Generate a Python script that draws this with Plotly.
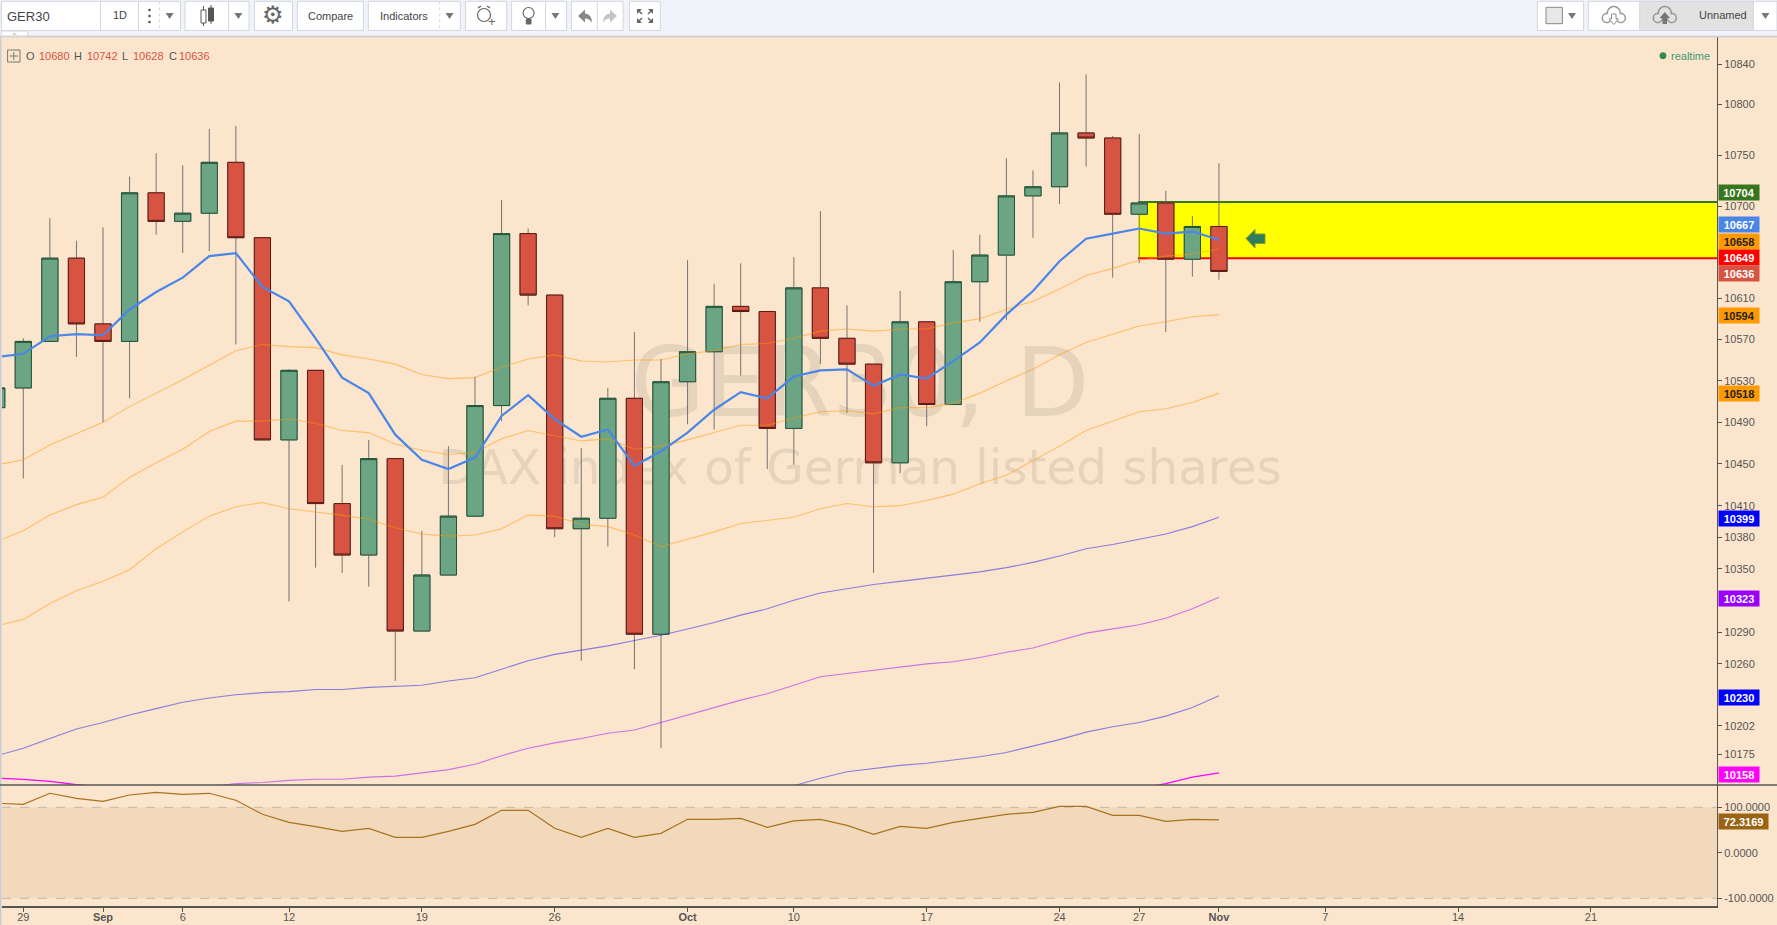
import math
import plotly.graph_objects as go

# ---------- data ----------
bars = list(range(-1, 46))
opens = [10504,10523,10568,10649,10585,10568,10713,10685,10693,10743,10669,10473,10540,10412,10363,10455,10291,10344,10400,10506,10673,10613,10388,10398,10513,10288,10529,10558,10602,10597,10484,10620,10571,10546,10451,10587,10507,10626,10652,10710,10719,10772,10767,10692,10703,10648,10680]
highs = [10523,10571,10688,10666,10679,10729,10752,10740,10776,10779,10669,10541,10540,10449,10473,10455,10386,10467,10534,10706,10678,10613,10465,10523,10577,10551,10647,10624,10644,10597,10650,10695,10603,10546,10617,10587,10657,10672,10747,10735,10822,10830,10769,10771,10715,10690,10742]
lows = [10504,10436,10568,10553,10490,10513,10672,10654,10656,10565,10473,10319,10351,10346,10333,10244,10291,10344,10400,10491,10603,10380,10263,10371,10255,10181,10488,10483,10535,10445,10449,10546,10499,10346,10441,10486,10507,10587,10589,10669,10702,10739,10630,10644,10577,10631,10628]
closes = [10523,10568,10649,10585,10568,10713,10685,10693,10743,10669,10473,10540,10412,10363,10455,10291,10344,10400,10506,10673,10613,10388,10398,10513,10288,10529,10558,10602,10597,10484,10620,10571,10546,10451,10587,10507,10626,10652,10710,10719,10772,10767,10692,10703,10648,10680,10636]

ema_blue = [10553,10556,10573,10575,10574,10599,10616,10630,10651,10654,10621,10607,10571,10533,10518,10478,10454,10445,10456,10496,10516,10493,10476,10483,10448,10462,10480,10502,10519,10513,10534,10540,10541,10525,10536,10532,10549,10567,10594,10617,10646,10668,10673,10678,10673,10675,10667]
orange_a = [10449,10454,10468,10479,10490,10505,10518,10531,10545,10559,10565,10563,10562,10555,10551,10546,10536,10532,10533,10543,10551,10555,10549,10548,10550,10550,10556,10559,10565,10566,10571,10578,10580,10578,10580,10580,10586,10590,10599,10607,10619,10632,10639,10647,10651,10653,10658]
orange_b = [10376,10386,10401,10411,10418,10437,10451,10464,10481,10491,10491,10493,10489,10482,10480,10469,10463,10459,10461,10474,10482,10477,10472,10474,10464,10467,10473,10480,10487,10487,10494,10500,10501,10498,10504,10504,10508,10518,10530,10541,10555,10567,10575,10583,10587,10592,10594]
orange_c = [10296,10302,10317,10329,10338,10349,10369,10385,10400,10409,10413,10407,10404,10401,10397,10389,10383,10381,10382,10388,10401,10400,10392,10390,10382,10371,10378,10385,10393,10396,10399,10407,10412,10409,10410,10415,10421,10431,10439,10453,10467,10482,10491,10500,10503,10509,10518]
violet_d = [10174,10181,10190,10199,10205,10212,10218,10224,10228,10231,10233,10234,10236,10236,10238,10239,10240,10244,10247,10255,10263,10269,10273,10277,10282,10287,10293,10299,10306,10312,10320,10327,10331,10335,10338,10341,10344,10347,10351,10356,10362,10369,10373,10378,10383,10390,10399]
purple_e = [None]*8 + [10145,10148,10149,10151,10152,10152,10154,10155,10158,10161,10166,10174,10181,10186,10190,10195,10198,10205,10212,10219,10226,10232,10240,10248,10251,10254,10257,10260,10262,10266,10271,10275,10282,10289,10293,10297,10303,10312,10323]
blue_f = [None]*30 + [10146,10153,10159,10162,10165,10167,10170,10173,10177,10183,10189,10196,10201,10205,10211,10219,10230]
magenta_g = [10153,10152,10150,10147,10145] + [None]*38 + [10143,10148,10154,10158]
cci = [108.8,106.6,130.8,119.7,113.2,127,133,128.6,130.8,115.4,84.6,67,57.4,47,53.8,34,34,47,62.6,93.4,93.4,53.8,34,53.8,34,42.8,73.6,73.6,75.8,56,70,73.6,60.4,40.7,58.2,53.8,67,75.8,84.6,89,102,102,82.4,82.4,69.2,73.6,72.3]

price_ticks = [10840,10800,10750,10700,10610,10570,10530,10490,10450,10410,10380,10350,10290,10260,10202,10175]
date_tick_bars = [0,3,6,10,15,20,25,29,34,39,42,45,49,54,59]
date_tick_text = ["29","<b>Sep</b>","6","12","19","26","<b>Oct</b>","10","17","24","27","<b>Nov</b>","7","14","21"]
zone_top, zone_bottom = 10704, 10649
legend_tokens = [("O",24,0),("10680",37,1),("H",72,0),("10742",85,1),("L",120,0),("10628",131,1),("C",167,0),("10636",177,1)]
# value, label centre (px), box colour, text colour
price_labels = [("10704",192.7,"#38761D","#FFFFFF"),("10667",225,"#4A86E8","#FFFFFF"),("10658",241,"#FF9900","#222222"),
                ("10649",257,"#FF0000","#FFFFFF"),("10636",273,"#D75442","#FFFFFF"),("10594",315,"#FF9900","#222222"),
                ("10518",393.4,"#FF9900","#222222"),("10399",518,"#0000FF","#FFFFFF"),("10323",598.5,"#9900FF","#FFFFFF"),
                ("10230",697,"#0000FF","#FFFFFF"),("10158",774,"#FF00FF","#FFFFFF")]

# ---------- layout helpers ----------
BG = "#FCE5CD"
L, R, T, B = 2, 1717, 37, 906
W, H = 1777, 925
def PX(x): return (x - L) / (R - L)
def PY(y): return 1 - (y - T) / (B - T)
shapes, annos = [], []
def rect(x0, y0, x1, y1, fill="#FFFFFF", line="#D3D6DB", lw=1, layer="above"):
    shapes.append(dict(type="rect", xref="paper", yref="paper", x0=PX(x0), x1=PX(x1), y0=PY(y0), y1=PY(y1),
                       fillcolor=fill, line=dict(color=line, width=lw), layer=layer))
def seg(x0, y0, x1, y1, color="#D3D6DB", lw=1, dash="solid"):
    shapes.append(dict(type="line", xref="paper", yref="paper", x0=PX(x0), x1=PX(x1), y0=PY(y0), y1=PY(y1),
                       line=dict(color=color, width=lw, dash=dash), layer="above"))
def poly(cmds, fill="#777777", line="rgba(0,0,0,0)", lw=0):
    out = []
    for c in cmds:
        if c[0] == "Z": out.append("Z")
        elif c[0] == "Q": out.append(f"Q{PX(c[1])},{PY(c[2])} {PX(c[3])},{PY(c[4])}")
        else: out.append(f"{c[0]}{PX(c[1])},{PY(c[2])}")
    shapes.append(dict(type="path", xref="paper", yref="paper", path=" ".join(out), fillcolor=fill,
                       line=dict(color=line, width=lw), layer="above"))
def circ(cx, cy, r, fill="rgba(0,0,0,0)", line="#666666", lw=1.2):
    shapes.append(dict(type="circle", xref="paper", yref="paper", x0=PX(cx-r), x1=PX(cx+r), y0=PY(cy-r), y1=PY(cy+r),
                       fillcolor=fill, line=dict(color=line, width=lw), layer="above"))
def tri(cx, cy=16, color="#777777"):
    poly([("M",cx-4,cy-3),("L",cx+4,cy-3),("L",cx,cy+3),("Z",)], fill=color)
def text(x, y, s, size=11, color="#555555", anchor="center", family="Liberation Sans", **kw):
    annos.append(dict(xref="paper", yref="paper", x=PX(x), y=PY(y), text=s, showarrow=False, xanchor=anchor,
                      yanchor="middle", font=dict(size=size, color=color, family=family), **kw))
def cloud(cx, cy, inner):
    lobes = [(cx-7, cy+3, 5), (cx, cy-2, 7), (cx+7, cy+3, 5)]
    for x, y, r in lobes:
        circ(x, y, r, fill="#8F8F8F", line="#8F8F8F", lw=0.5)
    for x, y, r in lobes:
        circ(x, y, r-1.3, fill=inner, line=inner, lw=0.3)

# ---------- toolbar ----------
rect(0, 0, W, 36, fill="#F0F3FA", line="#F0F3FA")
seg(0, 36.5, W, 36.5, color="#C9CCD2", lw=1.5)
for x0, x1 in [(1.3,180.4),(185,249),(254.5,292.4),(297.3,363.4),(368.3,460.3),(465.6,506.7),(511.6,566.5),(571.4,623),(629.5,660.3),(1537.4,1583.6),(1588.3,1777)]:
    rect(x0, 1.3, x1, 30.5)
rect(1.3, 31, 27.7, 36, line="#D3D6DB")
poly([("M",12,35),("L",17,35),("L",14.5,32.5),("Z",)], fill="#CCCCCC")
for x in [100.4, 228.6, 545.5, 597.3]:
    seg(x, 1.3, x, 30.5)
for x in [159.4, 439.7]:
    seg(x, 1.3, x, 30.5, dash="dot")
seg(138.4, 1.3, 138.4, 30.5)
text(28.6, 16, "GER30", size=13, color="#444444")
text(119.6, 15.5, "1D", size=11, color="#444444")
for y in [10, 16, 22]:
    circ(149.5, y, 1.1, fill="#555555", line="#555555", lw=0.5)
tri(169.6); tri(238.4); tri(449.5); tri(555.4)
seg(203.5, 6, 203.5, 26, color="#555555"); rect(201, 10, 206, 23, fill="#FFFFFF", line="#555555")
seg(211, 5, 211, 24, color="#555555"); rect(208.5, 8, 213.5, 21, fill="#555555", line="#555555")
text(273, 15, "\u2699", size=24, color="#666666", family="DejaVu Sans")
text(330.4, 16, "Compare", size=11, color="#444444")
text(404, 16, "Indicators", size=11, color="#444444")
circ(484, 15, 6.5)
seg(478, 8, 481, 6, color="#666666", lw=1.5); seg(490, 8, 487, 6, color="#666666", lw=1.5)
text(492, 22, "+", size=13, color="#666666")
circ(528.6, 13, 5.5)
rect(526.3, 19, 531, 24, fill="#666666", line="#666666")
poly([("M",578,16),("L",585,9.5),("L",585,13.5),("Q",592,14,592,23),("Q",590,18.5,585,18.5),("L",585,22.5),("Z",)], fill="#888888")
poly([("M",617,16),("L",610,9.5),("L",610,13.5),("Q",603,14,603,23),("Q",605,18.5,610,18.5),("L",610,22.5),("Z",)], fill="#C4C4C4")
for cx, cy, dx, dy in [(637,9,1,1),(653,9,-1,1),(637,23,1,-1),(653,23,-1,-1)]:
    poly([("M",cx,cy),("L",cx+5*dx,cy),("L",cx,cy+5*dy),("Z",)], fill="#666666")
    seg(cx+2*dx, cy+2*dy, cx+5*dx, cy+5*dy, color="#666666", lw=1.5)
rect(1546, 7.3, 1562.4, 23.7, fill="#E8E8E8", line="#888888")
tri(1572)
rect(1639.7, 1.3, 1753.3, 30.5, fill="#E2E2E2", line="#D3D6DB")
cloud(1613.8, 15, "#FFFFFF")
poly([("M",1611.5,14),("L",1616,14),("L",1616,19),("L",1618.5,19),("L",1613.8,24.5),("L",1609,19),("L",1611.5,19),("Z",)], fill="#FFFFFF", line="#8F8F8F", lw=1)
cloud(1664.8, 15, "#E2E2E2")
poly([("M",1664.8,12),("L",1670,18),("L",1667,18),("L",1667,24),("L",1662.5,24),("L",1662.5,18),("L",1659.5,18),("Z",)], fill="#777777")
text(1723, 15.5, "Unnamed", size=11, color="#444444")
tri(1765.4)

# ---------- pane furniture ----------
rect(0, T, 1.5, B + 19, fill="#C9CCD2", line="#C9CCD2", lw=0)
seg(0, 785, W, 785, color="#555555", lw=1.5)
for watermark, cx, cy, sz in [("GER30, D", 860, 376, 96), ("DAX index of German listed shares", 860, 464, 48.4)]:
    shapes.append(dict(type="rect", xref="paper", yref="paper", x0=PX(cx-500), x1=PX(cx+500), y0=PY(cy+60), y1=PY(cy-60),
                       fillcolor="rgba(0,0,0,0)", line=dict(width=0), layer="below",
                       label=dict(text=watermark, textposition="middle center",
                                  font=dict(family="DejaVu Sans", size=sz, color="#E5D3BC"))))
x_right = (R - 23.3) / 26.57
shapes.append(dict(type="rect", xref="x", yref="y", x0=41.95, x1=x_right, y0=zone_bottom, y1=zone_top,
                   fillcolor="#FFFF00", line=dict(width=0), layer="below"))
for v, col in [(zone_top, "#38761D"), (zone_bottom, "#FF0000")]:
    shapes.append(dict(type="line", xref="x", yref="y", x0=41.95, x1=x_right, y0=v, y1=v,
                       line=dict(color=col, width=2), layer="below"))
shapes.append(dict(type="rect", xref="paper", yref="y2", x0=0, x1=1, y0=-100, y1=100,
                   fillcolor="#F2D9BC", line=dict(width=0), layer="below"))
for v in [100, -100]:
    shapes.append(dict(type="line", xref="paper", yref="y2", x0=0, x1=1, y0=v, y1=v,
                       line=dict(color="#BDB8B0", width=1, dash="dash"), layer="below"))
poly([("M",1246,238.5),("L",1255,229.5),("L",1255,234),("L",1265,234),("L",1265,243.5),("L",1255,243.5),("L",1255,248),("Z",)],
     fill="#2E7D5A", line="#8A9A20", lw=1)

# ---------- top labels ----------
rect(7.6, 50, 20, 62, fill="rgba(0,0,0,0)", line="#777777")
seg(13.8, 52, 13.8, 60, color="#777777"); seg(9.6, 56, 18, 56, color="#777777")
for s, x, is_val in legend_tokens:
    text(x, 55.7, s, size=11, color="#D75442" if is_val else "#555555", anchor="left")
circ(1663, 55.7, 3.2, fill="#2E8B57", line="#2E8B57", lw=0.5)
text(1669, 55.7, "realtime", size=11, color="#3D9970", anchor="left")

# ---------- right-hand value labels ----------
for s, y, bg, fg in price_labels:
    annos.append(dict(xref="paper", yref="paper", x=PX(R + 0.5), y=PY(y), text=f"<b>{s}</b>", showarrow=False,
                      xanchor="left", yanchor="middle", width=40, height=15, bgcolor=bg, borderpad=0, align="center",
                      font=dict(size=11, color=fg, family="Liberation Sans")))
annos.append(dict(xref="paper", yref="paper", x=PX(R + 0.5), y=PY(821), text="<b>72.3169</b>", showarrow=False,
                  xanchor="left", yanchor="middle", width=49, height=15, bgcolor="#996515", borderpad=0, align="center",
                  font=dict(size=11, color="#FFFFFF", family="Liberation Sans")))

# ---------- traces ----------
fig = go.Figure()
fig.add_trace(go.Candlestick(x=bars, open=opens, high=highs, low=lows, close=closes, whiskerwidth=0,
                             increasing=dict(line=dict(color="#737375", width=1), fillcolor="#6BA583"),
                             decreasing=dict(line=dict(color="#737375", width=1), fillcolor="#D75442"),
                             hoverinfo="skip", showlegend=False))
fig.add_trace(go.Candlestick(x=bars, open=opens, close=closes,
                             high=[max(o, c) for o, c in zip(opens, closes)],
                             low=[min(o, c) for o, c in zip(opens, closes)], whiskerwidth=0,
                             increasing=dict(line=dict(color="#225437", width=1), fillcolor="#6BA583"),
                             decreasing=dict(line=dict(color="#5B1A13", width=1), fillcolor="#D75442"),
                             hoverinfo="skip", showlegend=False))
for series, col, lw in [(orange_a, "rgba(255,153,0,0.5)", 1.1), (orange_b, "rgba(255,153,0,0.5)", 1.1),
                        (orange_c, "rgba(255,153,0,0.5)", 1.1), (violet_d, "rgba(40,40,235,0.55)", 1.1),
                        (purple_e, "rgba(153,0,255,0.5)", 1.1), (blue_f, "rgba(40,40,235,0.55)", 1.1),
                        (magenta_g, "#FF00FF", 1.2), (ema_blue, "#4A86E8", 2.2)]:
    fig.add_trace(go.Scatter(x=bars, y=series, mode="lines", line=dict(color=col, width=lw),
                             hoverinfo="skip", showlegend=False, connectgaps=False))
fig.add_trace(go.Scatter(x=bars, y=cci, yaxis="y2", mode="lines", line=dict(color="#A8721F", width=1.2),
                         hoverinfo="skip", showlegend=False))

axis_font = dict(family="Liberation Sans", size=11, color="#555555")
split = 1 - (785 - T) / (B - T)
fig.update_layout(
    width=W, height=H, margin=dict(l=L, r=W - R, t=T, b=H - B, pad=0, autoexpand=False),
    paper_bgcolor=BG, plot_bgcolor=BG, boxgap=0.39, boxgroupgap=0, showlegend=False, dragmode=False, hovermode=False,
    font=axis_font, shapes=shapes, annotations=annos,
    xaxis=dict(domain=[0, 1], anchor="y2", range=[(L - 23.3) / 26.57, x_right], rangeslider=dict(visible=False),
               tickmode="array", tickvals=date_tick_bars, ticktext=date_tick_text, ticks="outside", ticklen=4,
               tickcolor="#555555", showgrid=False, zeroline=False, showline=True, linecolor="#555555", linewidth=1.5,
               tickfont=axis_font, tickangle=0, ticklabelstandoff=-4),
    yaxis=dict(domain=[split, 1], anchor="x", side="right", type="log",
               range=[math.log10(10146.7), math.log10(10867.2)], tickmode="array", tickvals=price_ticks,
               ticktext=[str(v) for v in price_ticks], ticks="outside", ticklen=4, tickcolor="#555555",
               showgrid=False, zeroline=False, showline=True, linecolor="#555555", linewidth=1, tickfont=axis_font),
    yaxis2=dict(domain=[0, split], anchor="x", side="right", range=[-116.9, 149], tickmode="array",
                tickvals=[100, 0, -100], ticktext=["100.0000", "0.0000", "-100.0000"], ticks="outside", ticklen=4,
                tickcolor="#555555", showgrid=False, zeroline=False, showline=True, linecolor="#555555", linewidth=1,
                tickfont=axis_font),
)
fig.write_html("out.html", config=dict(displayModeBar=False, staticPlot=True),
               post_script="document.body.style.margin='0';document.body.style.overflow='hidden';")
